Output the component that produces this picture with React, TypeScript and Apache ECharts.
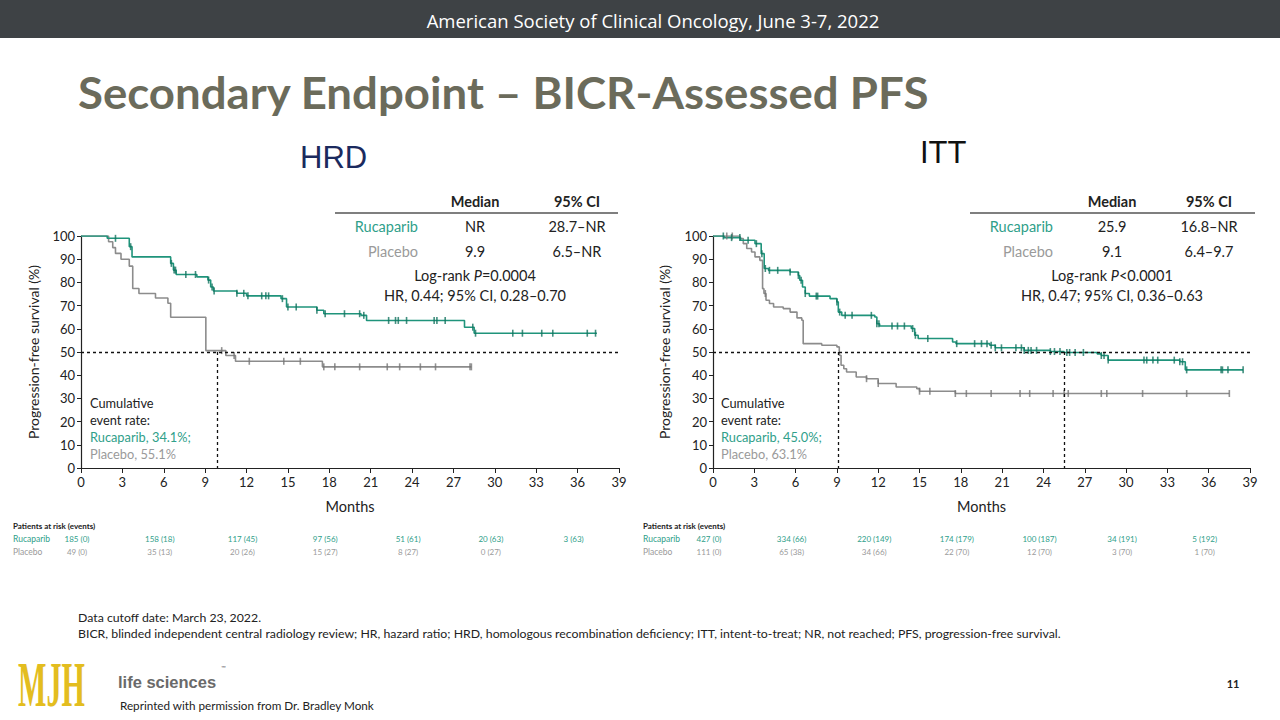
import React, { useEffect, useRef } from "react";
import * as echarts from "echarts";

// ---------- DATA ----------
const hrdRucaparib: number[][] = [
  [0, 100], [1.9, 99], [3.5, 95.4], [3.7, 91], [6.5, 88.2], [6.7, 85.3], [6.9, 83.4], [8.4, 82.4],
  [9.2, 81], [9.4, 78], [9.6, 76.3], [11.3, 75.3], [12.0, 74.2], [14.5, 73], [14.9, 69.4], [17.1, 68],
  [17.6, 66.5], [20.3, 65.8], [20.7, 63.6], [27.8, 60.7], [28.5, 58.1],
];
const hrdRucaparibEnd = 37.4;
const hrdPlacebo: number[][] = [
  [0, 100], [2.0, 97.5], [2.3, 95], [2.5, 92.5], [2.9, 90], [3.5, 87], [3.75, 77.4], [4.2, 75.2],
  [5.4, 73.3], [6.3, 71], [6.5, 65], [9.05, 50.6], [10.5, 48.5], [11.2, 46], [17.5, 43.6],
];
const hrdPlaceboEnd = 28.3;
const hrdRucaparibCensors = [2.5, 3.6, 6.55, 6.75, 6.85, 7.6, 8.3, 9.25, 9.5, 9.65, 11.3, 11.8, 12.1, 13.1, 13.4, 13.6, 14.6, 15.0, 15.6, 17.1, 17.7, 19.1, 20.2, 20.5, 22.3, 22.8, 23.0, 23.6, 25.6, 25.8, 26.4, 28.4, 28.6, 31.3, 32.0, 33.4, 34.2, 36.7, 37.3];
const hrdPlaceboCensors = [10.2, 11.1, 12.2, 14.7, 15.9, 17.6, 18.4, 20.2, 22.2, 23.1, 24.6, 25.7, 28.2, 28.3];
const hrdMedianPlacebo = 9.9;

const ittRucaparib: number[][] = [
  [0, 100], [0.8, 99.3], [2.0, 98.2], [3.05, 96.7], [3.5, 92.4], [3.72, 86], [4.03, 85.2], [5.6, 84.5],
  [6.2, 83], [6.3, 80.9], [6.5, 78], [6.7, 75.2], [7.0, 74.1], [8.5, 73], [9.0, 71.6], [9.1, 67.2],
  [9.35, 65.8], [11.75, 65.1], [11.9, 62.2], [12.1, 61.2], [14.4, 60.1], [14.65, 57.2], [14.9, 55.8],
  [17.4, 54.3], [17.65, 53.6], [20.1, 52.9], [20.5, 51.8], [22.6, 50.7], [24.5, 50.2], [25.5, 49.8],
  [27.9, 49.2], [28.2, 48.5], [28.7, 46.5], [33.9, 45.8], [34.3, 42.3],
];
const ittRucaparibEnd = 38.5;
const ittPlacebo: number[][] = [
  [0, 100], [1.96, 98.9], [2.2, 96.7], [2.45, 94.6], [2.8, 93.1], [3.05, 91], [3.4, 89.5], [3.6, 77.3],
  [3.7, 75.2], [3.85, 72.3], [4.1, 70.9], [4.4, 69.4], [5.1, 68.7], [5.6, 67.2], [6.1, 64.7], [6.45, 63.7],
  [6.55, 53.6], [7.9, 52.9], [9.0, 52.2], [9.17, 48.6], [9.3, 44.3], [9.5, 42.8], [9.7, 41.4], [10.4, 39.2],
  [11.15, 38.5], [12.0, 36.4], [13.3, 34.9], [14.8, 34.2], [15.0, 33.1], [17.6, 32.1],
];
const ittPlaceboEnd = 37.5;
const ittRucaparibCensors = [0.75, 1.35, 1.95, 2.55, 3.15, 3.55, 3.8, 4.1, 4.7, 5.6, 6.2, 6.4, 6.7, 7.5, 7.6, 9.0, 9.2, 9.6, 10.1, 11.5, 11.9, 12.05, 13.0, 13.4, 13.9, 14.5, 14.7, 15.6, 17.7, 19.0, 19.5, 19.9, 20.2, 20.5, 20.95, 22.0, 22.4, 22.6, 22.9, 23.1, 23.5, 24.5, 24.8, 25.2, 25.7, 25.9, 26.3, 26.9, 28.2, 28.4, 28.7, 31.3, 31.5, 31.95, 32.3, 33.5, 33.9, 34.1, 34.4, 36.9, 37.0, 37.4, 38.5];
const ittPlaceboCensors = [1.0, 1.4, 3.8, 11.15, 12.0, 15.0, 15.75, 17.6, 18.4, 20.2, 22.3, 23.0, 24.7, 25.5, 25.8, 28.2, 28.6, 31.2, 34.4, 37.5];
const ittMedianPlacebo = 9.1;
const ittMedianRucaparib = 25.5;

const riskMonths = [0, 6, 12, 18, 24, 30, 36];
const hrdRucaparibRisk = ["185 (0)", "158 (18)", "117 (45)", "97 (56)", "51 (61)", "20 (63)", "3 (63)"];
const hrdPlaceboRisk = ["49 (0)", "35 (13)", "20 (26)", "15 (27)", "8 (27)", "0 (27)"];
const ittRucaparibRisk = ["427 (0)", "334 (66)", "220 (149)", "174 (179)", "100 (187)", "34 (191)", "5 (192)"];
const ittPlaceboRisk = ["111 (0)", "65 (38)", "34 (66)", "22 (70)", "12 (70)", "3 (70)", "1 (70)"];

const hrdTable = { ruca: ["NR", "28.7–NR"], plac: ["9.9", "6.5–NR"], p: "=0.0004", hr: "HR, 0.44; 95% CI, 0.28–0.70", rate: ["Rucaparib, 34.1%;", "Placebo, 55.1%"] };
const ittTable = { ruca: ["25.9", "16.8–NR"], plac: ["9.1", "6.4–9.7"], p: "<0.0001", hr: "HR, 0.47; 95% CI, 0.36–0.63", rate: ["Rucaparib, 45.0%;", "Placebo, 63.1%"] };

// ---------- STYLE ----------
const TEAL = "#1f947b";
const TEAL_TEXT = "#2fa08a";
const GRAY = "#8c8c8c";
const GRAY_TEXT = "#9a9a9a";
const FONT = "Lato, 'Open Sans', sans-serif";

function survivalAt(steps: number[][], t: number) {
  let v = steps[0][1];
  for (const s of steps) if (s[0] <= t) v = s[1];
  return v;
}

function curve(steps: number[][], end: number) {
  return [...steps, [end, steps[steps.length - 1][1]]];
}

function txt(x: number, y: number, text: string, o: any = {}) {
  return {
    type: "text", x, y, silent: true, rotation: o.rotation || 0,
    scaleX: o.scaleX || 1,
    style: {
      text, fontSize: o.size || 14.5, fontFamily: o.font || FONT, fill: o.color || "#222",
      align: o.align || "left", verticalAlign: "middle", fontWeight: o.weight || "normal",
      fontStyle: o.style || "normal",
    },
  };
}

function lineSeries(ax: number, steps: number[][], end: number, color: string, marks?: any) {
  const s: any = {
    type: "line", xAxisIndex: ax, yAxisIndex: ax, step: "end", showSymbol: false, symbol: "none",
    data: curve(steps, end), lineStyle: { color, width: 1.6 }, z: 3, silent: true,
  };
  if (marks) s.markLine = marks;
  return s;
}
function censorSeries(ax: number, steps: number[][], times: number[], color: string) {
  return {
    type: "scatter", xAxisIndex: ax, yAxisIndex: ax, symbol: "rect", symbolSize: [1.6, 7],
    itemStyle: { color }, data: times.map((t) => [t, survivalAt(steps, t)]), z: 4, silent: true,
  };
}
function medianMarks(medians: number[]) {
  return {
    silent: true, symbol: ["none", "none"], label: { show: false },
    lineStyle: { type: [3, 3], color: "#111", width: 1.3 },
    data: [
      [{ coord: [0, 50] }, { coord: [39, 50] }],
      ...medians.map((m) => [{ coord: [m, 50] }, { coord: [m, 0] }]),
    ],
  };
}

function axes(grid: number) {
  const axisLine = { show: true, lineStyle: { color: "#222", width: 1.2 } };
  return {
    x: {
      gridIndex: grid, type: "value", min: 0, max: 39, interval: 3, axisLine,
      axisTick: { show: true, length: 5, lineStyle: { color: "#222" } },
      axisLabel: { fontSize: 13, color: "#222", margin: 7, fontFamily: FONT },
      splitLine: { show: false },
      name: "Months", nameLocation: "middle", nameGap: 31,
      nameTextStyle: { fontSize: 14.5, color: "#222", fontFamily: FONT },
    },
    y: {
      gridIndex: grid, type: "value", min: 0, max: 100, interval: 10, axisLine,
      axisTick: { show: true, length: 4, lineStyle: { color: "#222" } },
      axisLabel: { fontSize: 13, color: "#222", margin: 6, fontFamily: FONT },
      splitLine: { show: false },
    },
  };
}

export default function App() {
  const ref = useRef<HTMLDivElement>(null);
  useEffect(() => {
    if (!ref.current) return;
    const chart = echarts.init(ref.current, undefined, { renderer: "svg" });
    const a0 = axes(0), a1 = axes(1);
    chart.setOption({
      animation: false,
      backgroundColor: "#ffffff",
      grid: [
        { left: 81, top: 236, width: 538, height: 232 },
        { left: 713, top: 236, width: 537, height: 232 },
      ],
      xAxis: [a0.x, a1.x],
      yAxis: [a0.y, a1.y],
      series: [
        lineSeries(0, hrdPlacebo, hrdPlaceboEnd, GRAY, medianMarks([hrdMedianPlacebo])),
        lineSeries(0, hrdRucaparib, hrdRucaparibEnd, TEAL),
        censorSeries(0, hrdPlacebo, hrdPlaceboCensors, "#777"),
        censorSeries(0, hrdRucaparib, hrdRucaparibCensors, "#13735f"),
        lineSeries(1, ittPlacebo, ittPlaceboEnd, GRAY, medianMarks([ittMedianPlacebo, ittMedianRucaparib])),
        lineSeries(1, ittRucaparib, ittRucaparibEnd, TEAL),
        censorSeries(1, ittPlacebo, ittPlaceboCensors, "#777"),
        censorSeries(1, ittRucaparib, ittRucaparibCensors, "#13735f"),
      ],
    });

    const g: any[] = [];
    // banner
    g.push({ type: "rect", shape: { x: 0, y: 0, width: 1280, height: 38 }, style: { fill: "#3e4245" }, silent: true });
    g.push(txt(653, 20, "American Society of Clinical Oncology, June 3-7, 2022", { size: 18.5, color: "#ffffff", align: "center", font: "'Open Sans', sans-serif" }));
    // title
    g.push(txt(78, 92, "Secondary Endpoint – BICR-Assessed PFS", { size: 43, color: "#6b6b5b", weight: "bold", scaleX: 1.06 }));
    g.push(txt(300, 157, "HRD", { size: 31, color: "#1b2a5e", font: "'Liberation Sans', Arial, sans-serif" }));
    g.push(txt(920, 152, "ITT", { size: 31, color: "#111", font: "'Liberation Sans', Arial, sans-serif" }));

    const tables = [
      { t: hrdTable, lineL: 335, lineR: 618, labR: 418, c1: 475, c2: 577, cx: 475 },
      { t: ittTable, lineL: 970, lineR: 1255, labR: 1053, c1: 1112, c2: 1209, cx: 1112 },
    ];
    for (const tb of tables) {
      g.push(txt(tb.c1, 201, "Median", { align: "center", weight: "bold" }));
      g.push(txt(tb.c2, 201, "95% CI", { align: "center", weight: "bold" }));
      g.push({ type: "line", shape: { x1: tb.lineL, y1: 213, x2: tb.lineR, y2: 213 }, style: { stroke: "#555", lineWidth: 1.5 }, silent: true });
      g.push(txt(tb.labR, 226, "Rucaparib", { align: "right", color: TEAL_TEXT }));
      g.push(txt(tb.c1, 226, tb.t.ruca[0], { align: "center" }));
      g.push(txt(tb.c2, 226, tb.t.ruca[1], { align: "center" }));
      g.push(txt(tb.labR, 251, "Placebo", { align: "right", color: GRAY_TEXT }));
      g.push(txt(tb.c1, 251, tb.t.plac[0], { align: "center" }));
      g.push(txt(tb.c2, 251, tb.t.plac[1], { align: "center" }));
      g.push({
        type: "text", x: tb.cx, y: 275, silent: true,
        style: {
          text: "{a|Log-rank }{b|P}{a|" + tb.t.p + "}", align: "center", verticalAlign: "middle",
          rich: {
            a: { fontSize: 14.5, fontFamily: FONT, fill: "#222", color: "#222" },
            b: { fontSize: 14.5, fontFamily: FONT, fill: "#222", color: "#222", fontStyle: "italic" },
          },
        },
      });
      g.push(txt(tb.cx, 295, tb.t.hr, { align: "center" }));
    }

    // cumulative event rate annotations
    const ann = [{ x: 90, t: hrdTable }, { x: 721, t: ittTable }];
    for (const a of ann) {
      g.push(txt(a.x, 403, "Cumulative", { size: 12.8 }));
      g.push(txt(a.x, 420, "event rate:", { size: 12.8 }));
      g.push(txt(a.x, 437, a.t.rate[0], { size: 12.8, color: TEAL_TEXT }));
      g.push(txt(a.x, 454, a.t.rate[1], { size: 12.8, color: GRAY_TEXT }));
    }

    // y-axis titles
    g.push(txt(33, 352, "Progression-free survival (%)", { size: 14, align: "center", rotation: Math.PI / 2 }));
    g.push(txt(664, 352, "Progression-free survival (%)", { size: 14, align: "center", rotation: Math.PI / 2 }));

    // risk tables
    const risks = [
      { ax: 0, x0: 13, r: hrdRucaparibRisk, p: hrdPlaceboRisk },
      { ax: 1, x0: 643, r: ittRucaparibRisk, p: ittPlaceboRisk },
    ];
    for (const rk of risks) {
      g.push(txt(rk.x0, 526, "Patients at risk (events)", { size: 8, weight: "bold" }));
      g.push(txt(rk.x0, 539, "Rucaparib", { size: 8.5, color: TEAL_TEXT }));
      g.push(txt(rk.x0, 552, "Placebo", { size: 8.5, color: GRAY_TEXT }));
      riskMonths.forEach((m, i) => {
        const px = chart.convertToPixel({ xAxisIndex: rk.ax }, m) as number;
        if (rk.r[i]) g.push(txt(px - 4, 539, rk.r[i], { size: 8, color: TEAL_TEXT, align: "center" }));
        if (rk.p[i]) g.push(txt(px - 4, 552, rk.p[i], { size: 8, color: GRAY_TEXT, align: "center" }));
      });
    }

    // footnotes
    g.push(txt(78, 617, "Data cutoff date: March 23, 2022.", { size: 12.3 }));
    g.push(txt(78, 633, "BICR, blinded independent central radiology review; HR, hazard ratio; HRD, homologous recombination deficiency; ITT, intent-to-treat; NR, not reached; PFS, progression-free survival.", { size: 12.3 }));

    // logo & footer
    g.push(txt(18, 684, "MJH", { size: 64, color: "#e3bd1f", weight: "bold", font: "'Liberation Serif', 'DejaVu Serif', serif", scaleX: 0.47 }));
    g.push(txt(118, 682, "life sciences", { size: 16.5, color: "#6a6a6a", weight: "bold", font: "'Liberation Sans', Arial, sans-serif" }));
    g.push(txt(221, 667, "™", { size: 6, color: "#6a6a6a" }));
    g.push(txt(120, 705, "Reprinted with permission from Dr. Bradley Monk", { size: 11.7 }));
    g.push(txt(1233, 683, "11", { size: 11, align: "center", weight: "bold" }));

    chart.setOption({ graphic: g });
    return () => chart.dispose();
  }, []);
  return (
    <div style={{ position: "fixed", left: 0, top: 0, width: 1280, height: 720, background: "#fff" }}>
      <div ref={ref} style={{ width: 1280, height: 720 }} />
    </div>
  );
}
